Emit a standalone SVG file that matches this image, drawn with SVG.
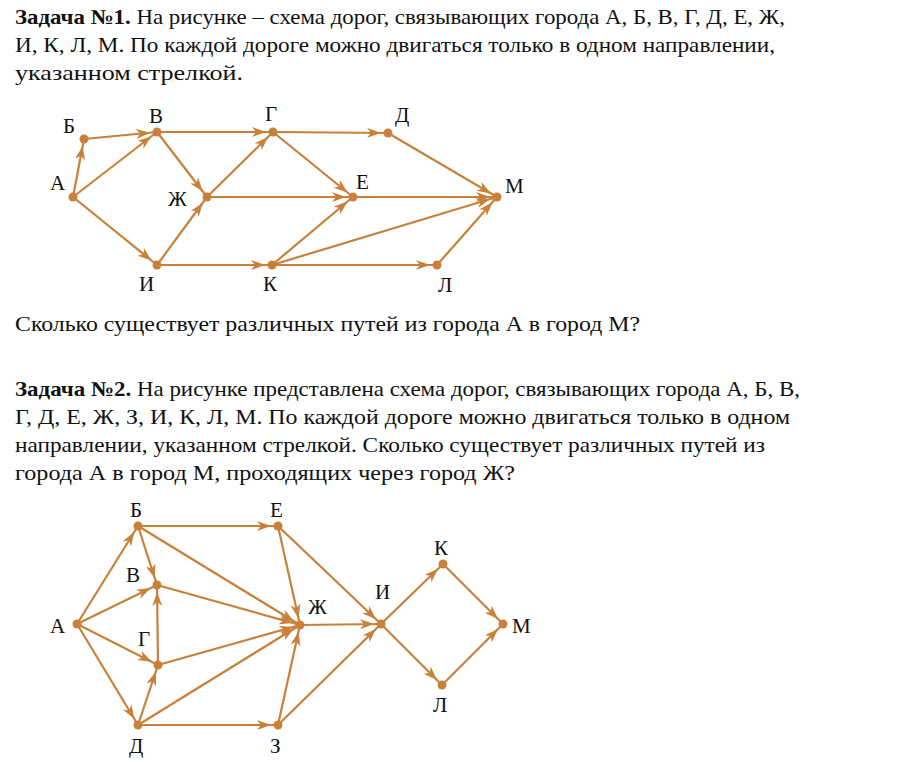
<svg xmlns="http://www.w3.org/2000/svg" width="910" height="762" viewBox="0 0 910 762">
<style>
text{font-family:"Liberation Serif","DejaVu Serif",serif;fill:#111}
.p{font-size:21px}
.b{font-weight:bold}
.n{font-size:21px}
.e line{stroke:#c8813a;stroke-width:2.2;marker-end:url(#a)}
circle{fill:#c8813a}
</style>
<defs>
<marker id="a" markerUnits="userSpaceOnUse" markerWidth="22" markerHeight="12" refX="21" refY="5" orient="auto">
<path d="M0,0 L14,5 L0,10 L4,5 z" fill="#c8813a"/>
</marker>
</defs>
<rect width="910" height="762" fill="#fff"/>
<text class="p" x="15" y="24" textLength="770" lengthAdjust="spacingAndGlyphs"><tspan class="b">Задача №1.</tspan> На рисунке – схема дорог, связывающих города А, Б, В, Г, Д, Е, Ж,</text>
<text class="p" x="15" y="52" textLength="760" lengthAdjust="spacingAndGlyphs">И, К, Л, М. По каждой дороге можно двигаться только в одном направлении,</text>
<text class="p" x="15" y="80" textLength="228" lengthAdjust="spacingAndGlyphs">указанном стрелкой.</text>
<text class="p" x="15" y="331" textLength="625" lengthAdjust="spacingAndGlyphs">Сколько существует различных путей из города А в город М?</text>
<text class="p" x="15" y="396" textLength="785" lengthAdjust="spacingAndGlyphs"><tspan class="b">Задача №2.</tspan> На рисунке представлена схема дорог, связывающих города А, Б, В,</text>
<text class="p" x="15" y="424" textLength="775" lengthAdjust="spacingAndGlyphs">Г, Д, Е, Ж, З, И, К, Л, М. По каждой дороге можно двигаться только в одном</text>
<text class="p" x="15" y="452" textLength="750" lengthAdjust="spacingAndGlyphs">направлении, указанном стрелкой. Сколько существует различных путей из</text>
<text class="p" x="15" y="480" textLength="500" lengthAdjust="spacingAndGlyphs">города А в город М, проходящих через город Ж?</text>

<g id="edges1" class="e">
<line x1="73" y1="197" x2="84" y2="139"/>
<line x1="73" y1="197" x2="157" y2="132"/>
<line x1="84" y1="139" x2="157" y2="132"/>
<line x1="73" y1="197" x2="157" y2="265"/>
<line x1="157" y1="132" x2="273" y2="132"/>
<line x1="157" y1="132" x2="207" y2="197"/>
<line x1="273" y1="132" x2="388" y2="133"/>
<line x1="273" y1="132" x2="353" y2="197"/>
<line x1="207" y1="197" x2="273" y2="132"/>
<line x1="207" y1="197" x2="353" y2="197"/>
<line x1="157" y1="265" x2="207" y2="197"/>
<line x1="157" y1="265" x2="272" y2="265"/>
<line x1="388" y1="133" x2="497" y2="197"/>
<line x1="353" y1="197" x2="497" y2="197"/>
<line x1="272" y1="265" x2="353" y2="197"/>
<line x1="272" y1="265" x2="497" y2="197"/>
<line x1="272" y1="265" x2="437" y2="265"/>
<line x1="437" y1="265" x2="497" y2="197"/>
</g>
<g id="n1A"><circle cx="73" cy="197" r="4.5"/><text class="n" x="50" y="190">А</text></g>
<g id="n1B6"><circle cx="84" cy="139" r="4.5"/><text class="n" x="63" y="133">Б</text></g>
<g id="n1V"><circle cx="157" cy="132" r="4.5"/><text class="n" x="149" y="123">В</text></g>
<g id="n1G"><circle cx="273" cy="132" r="4.5"/><text class="n" x="265" y="121">Г</text></g>
<g id="n1D"><circle cx="388" cy="133" r="4.5"/><text class="n" x="395" y="122">Д</text></g>
<g id="n1Zh"><circle cx="207" cy="197" r="4.5"/><text class="n" x="168" y="206">Ж</text></g>
<g id="n1E"><circle cx="353" cy="197" r="4.5"/><text class="n" x="356" y="189">Е</text></g>
<g id="n1M"><circle cx="497" cy="197" r="4.5"/><text class="n" x="505" y="193">М</text></g>
<g id="n1I"><circle cx="157" cy="265" r="4.5"/><text class="n" x="139" y="291">И</text></g>
<g id="n1K"><circle cx="272" cy="265" r="4.5"/><text class="n" x="263" y="291">К</text></g>
<g id="n1L"><circle cx="437" cy="265" r="4.5"/><text class="n" x="438" y="292">Л</text></g>

<g id="edges2" class="e">
<line x1="77" y1="624" x2="138" y2="526"/>
<line x1="77" y1="624" x2="157" y2="585"/>
<line x1="77" y1="624" x2="158" y2="665"/>
<line x1="77" y1="624" x2="138" y2="725"/>
<line x1="138" y1="526" x2="278" y2="526"/>
<line x1="138" y1="526" x2="157" y2="585"/>
<line x1="138" y1="526" x2="300" y2="625"/>
<line x1="157" y1="585" x2="300" y2="625"/>
<line x1="158" y1="665" x2="157" y2="585"/>
<line x1="158" y1="665" x2="300" y2="625"/>
<line x1="138" y1="725" x2="158" y2="665"/>
<line x1="138" y1="725" x2="300" y2="625"/>
<line x1="138" y1="725" x2="278" y2="725"/>
<line x1="278" y1="526" x2="300" y2="625"/>
<line x1="278" y1="526" x2="381" y2="624"/>
<line x1="278" y1="725" x2="300" y2="625"/>
<line x1="278" y1="725" x2="381" y2="624"/>
<line x1="300" y1="625" x2="381" y2="624"/>
<line x1="381" y1="624" x2="443" y2="564"/>
<line x1="381" y1="624" x2="442" y2="685"/>
<line x1="443" y1="564" x2="503" y2="624"/>
<line x1="442" y1="685" x2="503" y2="624"/>
</g>
<g id="n2A"><circle cx="77" cy="624" r="4.5"/><text class="n" x="50" y="633">А</text></g>
<g id="n2B6"><circle cx="138" cy="526" r="4.5"/><text class="n" x="130" y="517">Б</text></g>
<g id="n2E"><circle cx="278" cy="526" r="4.5"/><text class="n" x="270" y="517">Е</text></g>
<g id="n2V"><circle cx="157" cy="585" r="4.5"/><text class="n" x="126" y="582">В</text></g>
<g id="n2G"><circle cx="158" cy="665" r="4.5"/><text class="n" x="138" y="646">Г</text></g>
<g id="n2Zh"><circle cx="300" cy="625" r="4.5"/><text class="n" x="308" y="614">Ж</text></g>
<g id="n2D"><circle cx="138" cy="725" r="4.5"/><text class="n" x="129" y="753">Д</text></g>
<g id="n2Z"><circle cx="278" cy="725" r="4.5"/><text class="n" x="270" y="753">З</text></g>
<g id="n2I"><circle cx="381" cy="624" r="4.5"/><text class="n" x="375" y="599">И</text></g>
<g id="n2K"><circle cx="443" cy="564" r="4.5"/><text class="n" x="434" y="555">К</text></g>
<g id="n2L"><circle cx="442" cy="685" r="4.5"/><text class="n" x="433" y="712">Л</text></g>
<g id="n2M"><circle cx="503" cy="624" r="4.5"/><text class="n" x="512" y="633">М</text></g>
</svg>
